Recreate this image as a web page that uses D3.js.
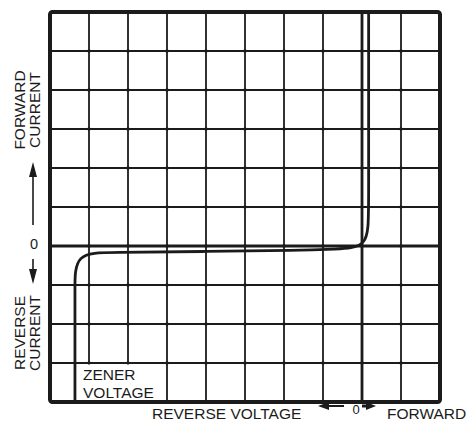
<!DOCTYPE html>
<html>
<head>
<meta charset="utf-8">
<script src="https://cdn.jsdelivr.net/npm/d3@7"></script>
<style>
  html, body { margin: 0; padding: 0; background: #fff; }
  svg { display: block; }
  text { font-family: "Liberation Sans", Arial, Helvetica, sans-serif; fill: #1b1b1b; }
</style>
</head>
<body>
<svg id="chart" width="469" height="428"></svg>
<script>
// Zener diode V-I characteristic on a 10 x 10 graticule.
// Voltage in graticule divisions (0 = origin, negative = reverse bias).
const voltageDivs = [-8, -7, -6, -5, -4, -3, -2, -1, 0, 1, 2];
// Current in graticule divisions (0 = origin, negative = reverse current).
const currentDivs = [-4, -3, -2, -1, 0, 1, 2, 3, 4, 5, 6];

// Trace of the diode characteristic (voltage, current) in divisions.
const traceVoltage = [-7.36, -7.36, -7.36, -7.36, -6.45, -4.0, -1.6, -0.7, 0.17, 0.17, 0.17];
const traceCurrent = [-4.0, -1.6, -1.1, -0.17, -0.165, -0.14, -0.115, -0.08, -0.045, 0.85, 6.0];

// Axis annotations.
const leftTopLabel = ["FORWARD", "CURRENT"];
const leftBottomLabel = ["REVERSE", "CURRENT"];
const zenerLabel = ["ZENER", "VOLTAGE"];
const originLabel = "0";
const bottomLeftLabel = "REVERSE VOLTAGE";
const bottomRightLabel = "FORWARD";

const ink = "#1b1b1b";
const svg = d3.select("#chart");

const x = d3.scaleLinear().domain([d3.min(voltageDivs), d3.max(voltageDivs)]).range([50, 440]);
const y = d3.scaleLinear().domain([d3.min(currentDivs), d3.max(currentDivs)]).range([402, 12]);

// Graticule lines
const grid = svg.append("g");
grid.selectAll("line.v").data(voltageDivs.slice(1, -1)).join("line")
  .attr("x1", d => x(d)).attr("x2", d => x(d))
  .attr("y1", y.range()[0]).attr("y2", y.range()[1])
  .attr("stroke", ink).attr("stroke-width", d => d === 0 ? 2.8 : 1.8);
grid.selectAll("line.h").data(currentDivs.slice(1, -1)).join("line")
  .attr("y1", d => y(d)).attr("y2", d => y(d))
  .attr("x1", x.range()[0]).attr("x2", x.range()[1])
  .attr("stroke", ink).attr("stroke-width", d => d === 0 ? 2.8 : 1.8);

// Small ink marks where graticule lines cross
const crossings = [];
voltageDivs.slice(1, -1).forEach(v => currentDivs.slice(1, -1).forEach(c => crossings.push([v, c])));
grid.selectAll("circle").data(crossings).join("circle")
  .attr("cx", d => x(d[0])).attr("cy", d => y(d[1])).attr("r", 1.7).attr("fill", ink);

// Label panel for the zener voltage, cleared of grid lines
svg.append("rect")
  .attr("x", x(traceVoltage[0]) + 1).attr("y", y(-3) + 1.5)
  .attr("width", x(-5) - x(traceVoltage[0]) - 2).attr("height", y(-4) - y(-3) - 3)
  .attr("fill", "#fff");

// Characteristic trace
const trace = traceVoltage.map((v, i) => [v, traceCurrent[i]]);
svg.append("path")
  .attr("d", d3.line().x(d => x(d[0])).y(d => y(d[1])).curve(d3.curveBasis)(trace))
  .attr("fill", "none").attr("stroke", ink).attr("stroke-width", 2.8);

// Outer frame
svg.append("rect")
  .attr("x", x.range()[0]).attr("y", y.range()[1])
  .attr("width", x.range()[1] - x.range()[0]).attr("height", y.range()[0] - y.range()[1])
  .attr("rx", 2.5).attr("fill", "none").attr("stroke", ink).attr("stroke-width", 4);

const fs = 15.5;

// Zener voltage label
svg.selectAll("text.zener").data(zenerLabel).join("text")
  .attr("x", 83).attr("y", (d, i) => 379.5 + i * 18.5)
  .attr("font-size", fs).text(d => d);

// Left side, rotated labels
function rotatedPair(lines, cy) {
  svg.selectAll(null).data(lines).join("text")
    .attr("transform", (d, i) => `translate(${25 + i * 14.5},${cy}) rotate(-90)`)
    .attr("text-anchor", "middle").attr("font-size", fs).text(d => d);
}
rotatedPair(leftTopLabel, 110);
rotatedPair(leftBottomLabel, 333);

// Up arrow, origin mark, down arrow on the current axis
const ax = 33;
svg.append("line").attr("x1", ax).attr("x2", ax).attr("y1", 225).attr("y2", 172)
  .attr("stroke", ink).attr("stroke-width", 1.6);
svg.append("path").attr("d", `M${ax},162 L${ax - 4},177 L${ax + 4},177 Z`).attr("fill", ink);
svg.append("text").attr("x", ax + 1).attr("y", y(0) + 3).attr("text-anchor", "middle")
  .attr("font-size", 14.5).text(originLabel);
svg.append("line").attr("x1", ax).attr("x2", ax).attr("y1", 259).attr("y2", 273)
  .attr("stroke", ink).attr("stroke-width", 1.6);
svg.append("path").attr("d", `M${ax},284 L${ax - 4},269 L${ax + 4},269 Z`).attr("fill", ink);

// Voltage axis caption
svg.append("text").attr("x", 152).attr("y", 419).attr("font-size", fs).text(bottomLeftLabel);
svg.append("path").attr("d", "M318,406 L329,402 L329,410 Z").attr("fill", ink);
svg.append("line").attr("x1", 328).attr("x2", 344).attr("y1", 406).attr("y2", 406)
  .attr("stroke", ink).attr("stroke-width", 2);
svg.append("text").attr("x", x(0) - 6).attr("y", 414).attr("text-anchor", "middle")
  .attr("font-size", 13).text(originLabel);
svg.append("path").attr("d", "M376,406 L366,402 L366,410 Z").attr("fill", ink);
svg.append("line").attr("x1", 362).attr("x2", 367).attr("y1", 406).attr("y2", 406)
  .attr("stroke", ink).attr("stroke-width", 3);
svg.append("text").attr("x", 387).attr("y", 419).attr("font-size", fs).text(bottomRightLabel);
</script>
</body>
</html>
